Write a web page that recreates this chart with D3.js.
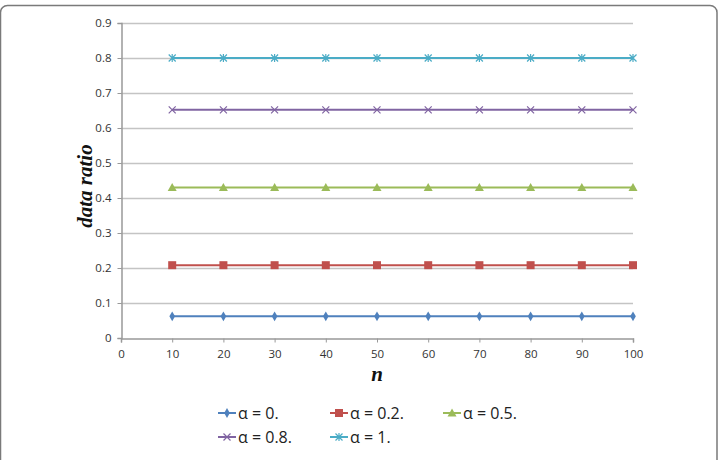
<!DOCTYPE html>
<html>
<head>
<meta charset="utf-8">
<script src="https://cdn.jsdelivr.net/npm/d3@7"></script>
<style>
  html, body { margin: 0; padding: 0; background: #fff; }
  svg { display: block; }
</style>
</head>
<body>
<div id="chart"></div>
<script>
// data
const nValues = [10, 20, 30, 40, 50, 60, 70, 80, 90, 100];
const xTicks = [0, 10, 20, 30, 40, 50, 60, 70, 80, 90, 100];
const yTicks = [0, 0.1, 0.2, 0.3, 0.4, 0.5, 0.6, 0.7, 0.8, 0.9];
const alpha0 = [0.062, 0.062, 0.062, 0.062, 0.062, 0.062, 0.062, 0.062, 0.062, 0.062];
const alpha02 = [0.208, 0.208, 0.208, 0.208, 0.208, 0.208, 0.208, 0.208, 0.208, 0.208];
const alpha05 = [0.43, 0.43, 0.43, 0.43, 0.43, 0.43, 0.43, 0.43, 0.43, 0.43];
const alpha08 = [0.652, 0.652, 0.652, 0.652, 0.652, 0.652, 0.652, 0.652, 0.652, 0.652];
const alpha1 = [0.8, 0.8, 0.8, 0.8, 0.8, 0.8, 0.8, 0.8, 0.8, 0.8];
const seriesNames = ['α = 0.', 'α = 0.2.', 'α = 0.5.', 'α = 0.8.', 'α = 1.'];

const series = [
  { name: seriesNames[0], values: alpha0, color: '#4F81BD', marker: 'diamond' },
  { name: seriesNames[1], values: alpha02, color: '#C0504D', marker: 'square' },
  { name: seriesNames[2], values: alpha05, color: '#9BBB59', marker: 'triangle' },
  { name: seriesNames[3], values: alpha08, color: '#8064A2', marker: 'x' },
  { name: seriesNames[4], values: alpha1, color: '#4BACC6', marker: 'star' },
];

const W = 718, H = 460;
const plot = { left: 121, right: 633, top: 23, bottom: 338 };

const svg = d3.select('#chart').append('svg')
  .attr('width', W).attr('height', H);

// outer frame (rounded, bottom runs off the picture)
svg.append('rect')
  .attr('x', 0.5).attr('y', 5.5)
  .attr('width', W - 1.5).attr('height', H + 20)
  .attr('rx', 7)
  .attr('fill', '#fff')
  .attr('stroke', '#7a7a7a')
  .attr('stroke-width', 1.5);

const x = d3.scaleLinear().domain([0, 100]).range([plot.left, plot.right]);
const y = d3.scaleLinear().domain([0, 0.9]).range([plot.bottom, plot.top]);

const tickFont = 'Open Sans, Liberation Sans, sans-serif';

// grid
svg.append('g')
  .selectAll('line')
  .data(yTicks.filter(d => d > 0))
  .enter().append('line')
  .attr('x1', plot.left).attr('x2', plot.right)
  .attr('y1', d => Math.round(y(d)) + 0.5).attr('y2', d => Math.round(y(d)) + 0.5)
  .attr('stroke', '#c4c4c4').attr('stroke-width', 1.5);

// y axis
const yAxis = svg.append('g')
  .attr('transform', `translate(${plot.left + 0.5},0)`)
  .call(d3.axisLeft(y).tickValues(yTicks).tickSize(4).tickPadding(6)
    .tickFormat(d => d === 0 ? '0' : d3.format('.1f')(d)));
yAxis.select('.domain').attr('stroke', '#999').attr('stroke-width', 1.5);
yAxis.selectAll('line').attr('stroke', '#999');
yAxis.selectAll('text').attr('font-family', tickFont).attr('font-size', '11.5px').attr('fill', '#333');

// x axis
const xAxis = svg.append('g')
  .attr('transform', `translate(0,${plot.bottom + 0.5})`)
  .call(d3.axisBottom(x).tickValues(xTicks).tickSize(4).tickPadding(7));
xAxis.select('.domain').attr('stroke', '#999').attr('stroke-width', 1.5);
xAxis.selectAll('line').attr('stroke', '#999');
xAxis.selectAll('text').attr('font-family', tickFont).attr('font-size', '11.5px').attr('fill', '#333');

// axis titles
svg.append('text')
  .attr('transform', `translate(92,186) rotate(-90)`)
  .attr('text-anchor', 'middle')
  .attr('font-family', 'Liberation Serif, DejaVu Serif, serif')
  .attr('font-style', 'italic').attr('font-weight', 'bold')
  .attr('font-size', '21px').attr('fill', '#111')
  .text('data ratio');

svg.append('text')
  .attr('x', (plot.left + plot.right) / 2).attr('y', 381)
  .attr('text-anchor', 'middle')
  .attr('font-family', 'Liberation Serif, DejaVu Serif, serif')
  .attr('font-style', 'italic').attr('font-weight', 'bold')
  .attr('font-size', '21px').attr('fill', '#111')
  .text('n');

function drawMarker(g, type, color) {
  if (type === 'diamond') {
    g.append('path').attr('d', d3.symbol(d3.symbolDiamond, 28)()).attr('fill', color);
  } else if (type === 'square') {
    g.append('rect').attr('x', -4).attr('y', -4).attr('width', 8).attr('height', 8).attr('fill', color);
  } else if (type === 'triangle') {
    g.append('path').attr('d', 'M0,-4.5L4.5,3.5L-4.5,3.5Z').attr('fill', color);
  } else if (type === 'x') {
    g.append('path').attr('d', 'M-3.5,-3.5L3.5,3.5M-3.5,3.5L3.5,-3.5').attr('stroke', color).attr('stroke-width', 1.2).attr('fill', 'none');
  } else if (type === 'star') {
    g.append('path').attr('d', 'M-3.5,-3.5L3.5,3.5M-3.5,3.5L3.5,-3.5M0,-4L0,4').attr('stroke', color).attr('stroke-width', 1.2).attr('fill', 'none');
  }
}

const line = d3.line()
  .x(d => x(d.n))
  .y(d => y(d.v));

series.forEach(s => {
  const pts = nValues.map((n, i) => ({ n, v: s.values[i] }));
  svg.append('path')
    .datum(pts)
    .attr('fill', 'none')
    .attr('stroke', s.color)
    .attr('stroke-width', 2)
    .attr('d', line);
  pts.forEach(p => {
    const g = svg.append('g').attr('transform', `translate(${x(p.n)},${y(p.v)})`);
    drawMarker(g, s.marker, s.color);
  });
});

// legend
const legendPos = [
  [218, 413], [330, 413], [443, 413],
  [218, 437], [330, 437],
];
series.forEach((s, i) => {
  const [lx, ly] = legendPos[i];
  const g = svg.append('g').attr('transform', `translate(${lx},${ly})`);
  g.append('line').attr('x1', 0).attr('x2', 18).attr('y1', 0).attr('y2', 0)
    .attr('stroke', s.color).attr('stroke-width', 2);
  const m = g.append('g').attr('transform', 'translate(9,0)');
  drawMarker(m, s.marker, s.color);
  g.append('text')
    .attr('x', 20).attr('y', 6)
    .attr('font-family', tickFont)
    .attr('font-size', '16px').attr('fill', '#222')
    .text(s.name);
});
</script>
</body>
</html>
